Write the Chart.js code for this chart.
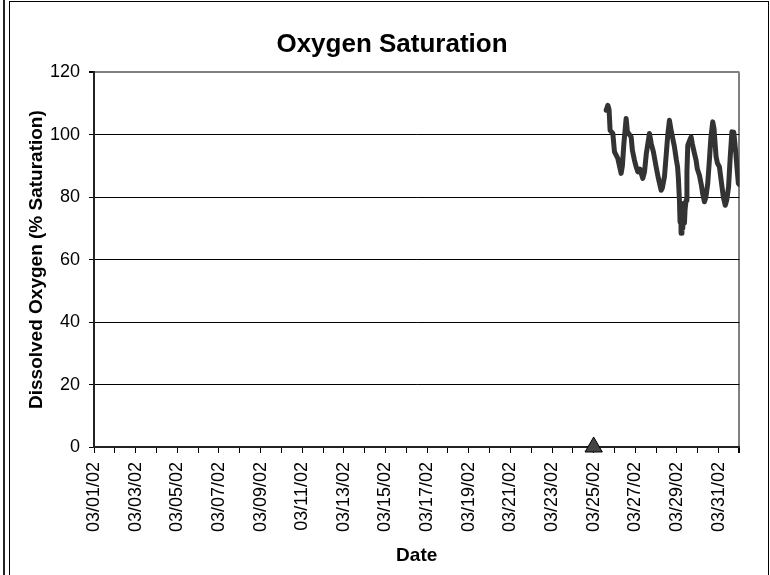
<!DOCTYPE html>
<html>
<head>
<meta charset="utf-8">
<script src="https://cdn.jsdelivr.net/npm/chart.js@4.4.0/dist/chart.umd.min.js"></script>
<style>
  body { margin: 0; background: #fff; }
  #wrap { position: relative; width: 770px; height: 575px; overflow: hidden; }
  #outerLine { position: absolute; left: 3px; top: 0; width: 2px; height: 575px; background: #222; }
  #frame { position: absolute; left: 9px; top: 1px; width: 758px; height: 580px; border: 1px solid #000; }
  #oxygenChart { position: absolute; left: 0; top: 0; }
</style>
</head>
<body>
<div id="wrap">
  <div id="outerLine"></div>
  <div id="frame"></div>
  <canvas id="oxygenChart" width="770" height="575"></canvas>
</div>
<script>
// days since 03/01/02 00:00
var sampleDays = [24.60,24.68,24.74,24.79,24.92,25.00,25.16,25.24,25.32,25.38,
    25.45,25.56,25.62,25.68,25.80,25.86,25.96,26.03,26.12,26.22,
    26.36,26.44,26.53,26.68,26.77,26.87,27.00,27.11,27.24,27.30,
    27.40,27.49,27.56,27.64,27.73,27.88,27.97,28.03,28.07,28.12,
    28.15,28.18,28.20,28.24,28.28,28.31,28.36,28.39,28.44,28.48,
    28.52,28.60,28.68,28.74,28.84,28.92,28.98,29.08,29.17,29.24,
    29.32,29.39,29.48,29.56,29.63,29.72,29.78,29.88,29.94,30.04,
    30.13,30.23,30.32,30.39,30.48,30.56,30.64,30.73,30.83,30.89,
    30.95,31.00];
var saturation = [107.8,109.4,108,101.4,100.4,94.5,92.4,90,87.6,90,
    97,105.2,101,100.4,99.3,95,91.8,90,88.1,89,
    86,88,94,100.4,97,94.5,89.7,86,82.2,83,
    86.5,94,100,104.6,101,96.1,92,89.7,86,79,
    72,78,68.4,75,70,78,71.7,76,79,88,
    96.6,98,99.3,97,94,91.8,89,87,84,81,
    78.5,80,84.4,92,99,104.1,102,92.9,91,89.7,
    85,80,77.4,79,83.3,93,100.9,100.8,94,89,
    84.4,84];
var markerDays = [24];
var markerValues = [0];
var dateLabels = ['03/01/02','03/03/02','03/05/02','03/07/02','03/09/02','03/11/02',
    '03/13/02','03/15/02','03/17/02','03/19/02','03/21/02','03/23/02',
    '03/25/02','03/27/02','03/29/02','03/31/02'];
var yTicks = [0, 20, 40, 60, 80, 100, 120];

function toPoints(xs, ys) {
    var pts = [];
    for (var i = 0; i < xs.length; i++) pts.push({x: xs[i], y: ys[i]});
    return pts;
}

Chart.defaults.font.family = '"Liberation Sans", Arial, sans-serif';
Chart.defaults.color = '#000';

var ctx = document.getElementById('oxygenChart').getContext('2d');
var myChart = new Chart(ctx, {
    type: 'line',
    data: {
        datasets: [{
            label: 'Dissolved Oxygen',
            data: toPoints(sampleDays, saturation),
            borderColor: '#333333',
            borderWidth: 5,
            pointRadius: 0,
            borderJoinStyle: 'round',
            borderCapStyle: 'round',
            fill: false
        }, {
            label: 'Marker',
            data: toPoints(markerDays, markerValues),
            showLine: false,
            pointStyle: 'triangle',
            pointRadius: 10,
            pointBackgroundColor: '#444444',
            pointBorderColor: '#000',
            pointBorderWidth: 1,
            clip: false
        }]
    },
    options: {
        responsive: false,
        animation: false,
        layout: { padding: { left: 44, right: 30, top: 0, bottom: 0 } },
        plugins: {
            legend: { display: false },
            tooltip: { enabled: false },
            title: {
                display: true,
                text: 'Oxygen Saturation',
                color: '#000',
                font: { size: 26, weight: 'bold' },
                padding: { top: 29, bottom: 12 }
            }
        },
        scales: {
            x: {
                type: 'linear',
                min: 0,
                max: 31,
                afterFit: function (scale) { scale.height = 128; },
                ticks: {
                    stepSize: 1,
                    autoSkip: false,
                    maxRotation: 90,
                    minRotation: 90,
                    padding: 9,
                    font: { size: 18 },
                    callback: function (v) {
                        return (v % 2 === 0 && v / 2 < dateLabels.length) ? dateLabels[v / 2] : '';
                    }
                },
                grid: {
                    drawOnChartArea: true,
                    tickLength: 6,
                    color: function (c) {
                        return (c.tick && c.tick.value === 31) ? '#808080' : 'rgba(0,0,0,0)';
                    },
                    lineWidth: function (c) {
                        return (c.tick && c.tick.value === 31) ? 2 : 1;
                    },
                    tickColor: '#000'
                },
                border: { color: '#222', width: 2 },
                title: {
                    display: true,
                    text: 'Date',
                    font: { size: 19, weight: 'bold' },
                    padding: { top: 4, bottom: 8 }
                }
            },
            y: {
                min: 0,
                max: 120,
                afterFit: function (scale) { scale.width = 50; },
                afterBuildTicks: function (scale) {
                    scale.ticks = yTicks.map(function (v) { return {value: v}; });
                },
                ticks: { padding: 9, font: { size: 18 } },
                grid: {
                    tickLength: 5,
                    color: function (c) {
                        return (c.tick && c.tick.value === 120) ? '#808080' : '#000';
                    },
                    lineWidth: function (c) {
                        return (c.tick && c.tick.value === 120) ? 2 : 1;
                    },
                    tickColor: '#000'
                },
                border: { color: '#222', width: 2 },
                title: {
                    display: true,
                    text: 'Dissolved Oxygen (% Saturation)',
                    font: { size: 19, weight: 'bold' },
                    padding: { top: -19, bottom: 0 }
                }
            }
        }
    }
});
</script>
</body>
</html>
